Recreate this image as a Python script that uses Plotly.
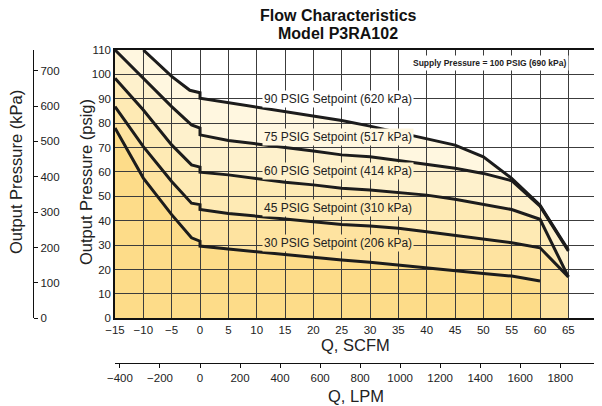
import plotly.graph_objects as go

# ---------------- data ----------------
scfm_90 = [-10, -5, -1.8, 0, 0, 5, 10, 15, 20, 25, 30, 35, 40, 45, 50, 55, 60, 65]
psig_90 = [110, 99.2, 93.5, 92.5, 90.2, 88.4, 86.6, 84.8, 82.9, 81.1, 78.8, 76.2, 73.8, 71.0, 66.2, 57.4, 46.4, 28.0]

scfm_std = [-15, -10, -5, -1.5, 0, 0, 5, 10, 15, 20, 25, 30, 35, 40, 45, 50, 55, 60, 65]
psig_75 = [110, 98.4, 86.8, 79.3, 78.0, 75.2, 72.9, 71.5, 70.2, 68.6, 67.0, 66.2, 64.7, 63.2, 61.5, 59.4, 56.4, 46.0, 27.6]
psig_60 = [98.4, 85.4, 71.1, 62.9, 62.0, 59.9, 58.8, 57.2, 55.8, 54.7, 53.3, 52.6, 51.7, 50.5, 48.8, 46.8, 44.6, 40.6, 17.0]
psig_45 = [86.8, 70.4, 56.1, 47.2, 46.6, 44.6, 43.0, 41.9, 41.0, 39.9, 38.5, 37.8, 36.9, 35.5, 34.1, 32.4, 31.0, 28.9, 17.0]

scfm_30 = [-15, -10, -5, -1.5, 0, 0, 5, 10, 15, 20, 25, 30, 35, 40, 45, 50, 55, 60]
psig_30 = [78.0, 57.5, 42.5, 33.0, 31.6, 29.6, 28.4, 27.3, 26.2, 24.8, 23.9, 23.0, 21.8, 20.5, 19.5, 18.4, 17.3, 15.3]

setpoint_psig = [90, 75, 60, 45, 30]
setpoint_kpa = [620, 517, 414, 310, 206]

scfm_ticks = list(range(-15, 75, 5))
psig_ticks = list(range(0, 120, 10))
lpm_ticks = list(range(-400, 2000, 200))
kpa_ticks = list(range(0, 800, 100))

title_lines = ["Flow Characteristics", "Model P3RA102"]

LPM_PER_SCFM = 28.3168
KPA_PER_PSI = 6.89476

# ---------------- styling ----------------
FONT = "Liberation Sans, Arial, Helvetica, sans-serif"
band_colors = ["#FFF7E0", "#FEF1CC", "#FEEAB4", "#FEE3A0", "#FDDC89"]
label_bg = ["#FFFFFF", "#FFF7E0", "#FEF1CC", "#FEEAB4", "#FEE3A0"]
LINE = "#1c1c1c"
GRID = "#3c3c3c"

curves = [
    ([-15] + scfm_90, [110] + psig_90, scfm_90, psig_90),
    (scfm_std, psig_75, scfm_std, psig_75),
    (scfm_std, psig_60, scfm_std, psig_60),
    (scfm_std, psig_45, scfm_std, psig_45),
    (scfm_30, psig_30, scfm_30, psig_30),
]

# The page body adds an 8px margin, so the figure is 8px smaller and
# reference pixel positions are shifted by that offset.
OFF = 8
W, H = 602 - OFF, 406 - OFF


def fx(px):
    return (px - OFF) / W


def fy(py):
    return 1 - (py - OFF) / H


px_left, px_right, py_top, py_bottom = 115, 596.7, 50, 318.3

fig = go.Figure()

shapes = []
for (bx, by, _, _), col in zip(curves, band_colors):
    pts = [(bx[0], 0)] + list(zip(bx, by)) + [(bx[-1], 0)]
    path = "M " + " L ".join(f"{x},{y}" for x, y in pts) + " Z"
    shapes.append(dict(type="path", path=path, xref="x", yref="y",
                       fillcolor=col, line=dict(width=0), layer="below"))

for (_, _, lx, ly), sp in zip(curves, setpoint_psig):
    fig.add_trace(go.Scatter(x=lx, y=ly, mode="lines", name=f"{sp} PSIG",
                             line=dict(color=LINE, width=3), showlegend=False,
                             hoverinfo="skip"))

# invisible traces for the secondary axes
fig.add_trace(go.Scatter(x=[scfm_ticks[0] * LPM_PER_SCFM], y=[0], xaxis="x2", yaxis="y",
                         mode="markers", marker=dict(opacity=0), showlegend=False, hoverinfo="skip"))
fig.add_trace(go.Scatter(x=[scfm_ticks[0]], y=[0], xaxis="x", yaxis="y2",
                         mode="markers", marker=dict(opacity=0), showlegend=False, hoverinfo="skip"))

annotations = []
label_y = [90, 74.5, 60.3, 45.3, 31]
for sp, kp, ly, bg in zip(setpoint_psig, setpoint_kpa, label_y, label_bg):
    annotations.append(dict(x=11.0, y=ly, xref="x", yref="y", xanchor="left", yanchor="middle",
                            text=f"{sp} PSIG Setpoint ({kp} kPa)", showarrow=False,
                            bgcolor=bg, borderpad=1,
                            font=dict(family=FONT, size=12, color="#222")))
annotations.append(dict(x=51, y=104.8, xref="x", yref="y", xanchor="center", yanchor="middle",
                        text="<b>Supply Pressure = 100 PSIG (690 kPa)</b>", showarrow=False,
                        bgcolor="white", borderpad=2,
                        font=dict(family=FONT, size=8.5, color="#222")))
for line_text, py in zip(title_lines, [15, 33.5]):
    annotations.append(dict(x=fx(338), y=fy(py), xref="paper", yref="paper",
                            xanchor="center", yanchor="middle", showarrow=False,
                            text=f"<b>{line_text}</b>",
                            font=dict(family=FONT, size=16, color="#111")))
annotations.append(dict(x=fx((px_left + px_right) / 2), y=fy(345), xref="paper", yref="paper",
                        xanchor="center", yanchor="middle", showarrow=False, text="Q, SCFM",
                        font=dict(family=FONT, size=16.5, color="#222")))
annotations.append(dict(x=fx((px_left + px_right) / 2), y=fy(396), xref="paper", yref="paper",
                        xanchor="center", yanchor="middle", showarrow=False, text="Q, LPM",
                        font=dict(family=FONT, size=16.5, color="#222")))
annotations.append(dict(x=fx(86), y=fy(182), xref="paper", yref="paper", textangle=-90,
                        xanchor="center", yanchor="middle", showarrow=False,
                        text="Output Pressure (psig)",
                        font=dict(family=FONT, size=16.5, color="#222")))
annotations.append(dict(x=fx(16), y=fy(172), xref="paper", yref="paper", textangle=-90,
                        xanchor="center", yanchor="middle", showarrow=False,
                        text="Output Pressure (kPa)",
                        font=dict(family=FONT, size=16.5, color="#222")))

tickfont = dict(family=FONT, size=11.5, color="#222")
xdom = [fx(px_left), fx(px_right)]
ydom = [fy(py_bottom), fy(py_top)]

fig.update_layout(
    width=W, height=H, margin=dict(l=0, r=0, t=0, b=0, autoexpand=False),
    paper_bgcolor="white", plot_bgcolor="white",
    shapes=shapes, annotations=annotations, showlegend=False,
    xaxis=dict(domain=xdom, range=[-15, 70], tickvals=scfm_ticks, ticks="",
               showgrid=True, gridcolor=GRID, gridwidth=1, zeroline=False,
               showline=True, linecolor="#111", linewidth=1.5, mirror=True,
               tickfont=tickfont, anchor="y", fixedrange=True, automargin=False),
    yaxis=dict(domain=ydom, range=[0, 110], tickvals=psig_ticks, ticks="",
               showgrid=True, gridcolor=GRID, gridwidth=1, zeroline=False,
               showline=True, linecolor="#111", linewidth=1.5, mirror=True,
               tickfont=tickfont, anchor="x", fixedrange=True, automargin=False),
    xaxis2=dict(overlaying="x", anchor="free", position=fy(363), side="bottom",
                range=[-15 * LPM_PER_SCFM, 70 * LPM_PER_SCFM], tickvals=lpm_ticks,
                ticks="outside", ticklen=4, tickcolor="#111", showgrid=False, zeroline=False,
                showline=True, linecolor="#111", linewidth=1.2, tickfont=tickfont,
                fixedrange=True, automargin=False),
    yaxis2=dict(overlaying="y", anchor="free", position=fx(33), side="right",
                range=[0, 110 * KPA_PER_PSI], tickvals=kpa_ticks,
                ticks="outside", ticklen=4, tickcolor="#111", showgrid=False, zeroline=False,
                showline=True, linecolor="#111", linewidth=1.2, tickfont=tickfont,
                fixedrange=True, automargin=False),
)

fig.write_html("out.html")
